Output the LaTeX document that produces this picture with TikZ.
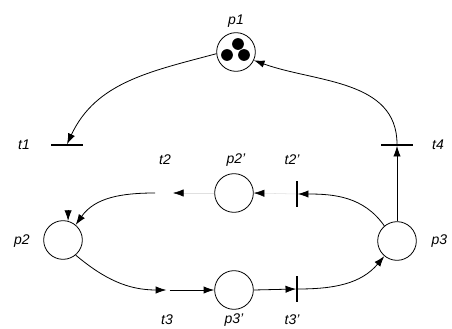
\documentclass[tikz,border=0pt]{standalone}
\usepackage{fontspec}
\setmainfont{Liberation Sans}
\usetikzlibrary{calc, arrows.meta}

\tikzset{
  place/.style={circle, draw, line width=0.6pt, minimum size=29pt, inner sep=0pt},
  hbar/.style={fill, minimum width=24pt, minimum height=0.8pt, inner sep=0pt},
  vbar/.style={fill, minimum width=0.8pt, minimum height=20pt, inner sep=0pt},
  nobar/.style={minimum height=20pt, inner sep=0pt},
  arc/.style={line width=0.6pt, -{Latex[length=8pt,width=5.5pt]}},
  faint/.style={line width=0.4pt, draw=black!12, -{Latex[length=8pt,width=5.5pt,color=black]}},
  lbl/.style={font=\fontsize{10.5}{12}\selectfont\itshape, inner sep=1pt}
}

\begin{document}
\begin{tikzpicture}[x=0.75pt, y=0.75pt]
\useasboundingbox (0,0) rectangle (452,328);
% places
\node[place] (p1) at (236,276) {};
\node[place] (p2) at (63,88) {};
\node[place] (p3) at (397,87) {};
\node[place] (p2p) at (234,135) {};
\node[place] (p3p) at (234,38) {};
% tokens in p1
\fill ($(p1)+(2,8)$) circle (4.4pt);
\fill ($(p1)+(-9,-3)$) circle (4.4pt);
\fill ($(p1)+(8,-3)$) circle (4.4pt);
% transitions
\node[hbar] (t1) at (67,183) {};
\node[hbar] (t4) at (397,183) {};
\node[vbar] (t2p) at (297,134) {};
\node[vbar] (t3p) at (297,39) {};
\node[nobar, minimum width=13pt] (t2) at (164,135) {};
\node[nobar, minimum width=2pt] (t3) at (168,38) {};
\coordinate (in2) at ($(p2.75)+(0,11)$);
% labels
\node[lbl] (lp1) at (236,307) {p1};
\node[lbl] (lt1) at (24,183) {t1};
\node[lbl] (lt4) at (438,183) {t4};
\node[lbl] (lp2) at (22,87) {p2};
\node[lbl, anchor=west] (lp3) at (430,87) {p3};
\node[lbl] (lt2) at (165,168) {t2};
\node[lbl] (lp2p) at (236,168) {p2'};
\node[lbl] (lt2p) at (292,168) {t2'};
\node[lbl] (lt3) at (167,8) {t3};
\node[lbl] (lp3p) at (234,8) {p3'};
\node[lbl] (lt3p) at (292,8) {t3'};
% arcs
\draw[arc] (p1.185) to[out=195,in=65] (t1.north);
\draw[arc] (p3.north) -- (t4.south);
\draw[arc] (t4.north) to[out=90,in=-20] (p1.-25);
\draw[arc] (p3.130) to[out=125,in=0] (t2p.east);
\draw[faint] (t2p.west) -- (p2p.east);
\draw[faint] (p2p.west) -- (t2.east);
\draw[arc] (t2.west) to[out=180,in=55] (p2.50);
\draw[arc] (in2) -- (p2.75);
\draw[arc] (p2.-50) to[out=-40,in=180] (t3.west);
\draw[arc] (t3.east) -- (p3p.west);
\draw[arc] (p3p.east) -- (t3p.west);
\draw[arc] (t3p.east) to[out=0,in=-130] (p3.-130);
\end{tikzpicture}
\end{document}
